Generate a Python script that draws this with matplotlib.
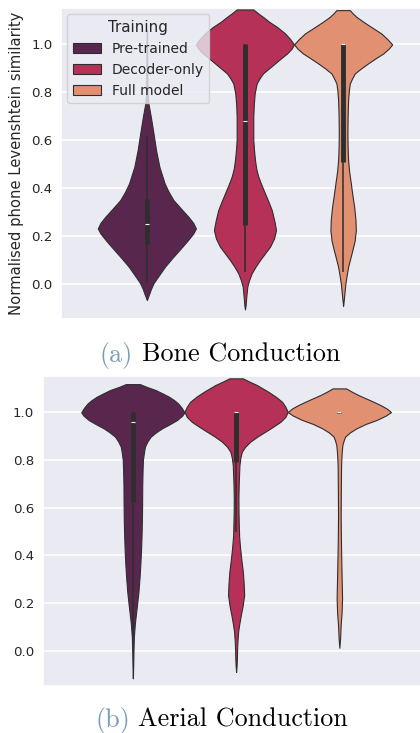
import matplotlib
matplotlib.use("Agg")
import matplotlib.pyplot as plt
from matplotlib.patches import Patch
import numpy as np
import seaborn as sns

# ---------------- data ----------------
labels = ["Pre-trained", "Decoder-only", "Full model"]
legend_title = "Training"
ylabel = "Normalised phone Levenshtein similarity"
yticks = [0.0, 0.2, 0.4, 0.6, 0.8, 1.0]
caption_tags = ["(a)", "(b)"]
caption_texts = ["Bone Conduction", "Aerial Conduction"]

# violin outlines: similarity value -> relative half-width (density)
bone_pre_y = [-0.067, -0.045, -0.02, 0.003, 0.035, 0.072, 0.105, 0.142, 0.18, 0.211, 0.232,
              0.255, 0.281, 0.315, 0.350, 0.385, 0.42, 0.489, 0.559, 0.629, 0.698, 0.755,
              0.80, 0.9, 1.06]
bone_pre_w = [0.0, 2.0, 4.2, 6.7, 12.0, 18.3, 25.0, 33.0, 41.0, 47.0, 49.7,
              47.0, 42.0, 34.5, 27.0, 22.0, 18.0, 12.7, 9.3, 6.7, 4.0, 1.5,
              0.6, 0.4, 0.3]

bone_dec_y = [-0.106, -0.09, -0.067, -0.04, -0.011, 0.015, 0.045, 0.072, 0.1, 0.128, 0.156,
              0.19, 0.225, 0.26, 0.309, 0.343, 0.378, 0.413, 0.448, 0.48, 0.517, 0.56, 0.60,
              0.698, 0.75, 0.796, 0.837, 0.858, 0.879, 0.90, 0.921, 0.942, 0.962, 0.982, 1.0,
              1.023, 1.046, 1.073, 1.095, 1.115, 1.13, 1.146]
bone_dec_w = [0.0, 0.6, 1.0, 1.6, 2.3, 4.0, 6.7, 10.5, 15.0, 20.0, 25.0,
              29.0, 31.0, 29.5, 26.7, 23.5, 20.0, 16.5, 13.3, 11.3, 10.0, 9.0, 8.3,
              8.3, 8.8, 9.7, 11.7, 14.5, 18.0, 24.0, 30.0, 36.0, 42.0, 46.5, 49.0,
              45.0, 40.0, 32.0, 24.0, 18.0, 13.0, 8.3]

bone_full_y = [-0.092, -0.06, -0.03, 0.003, 0.035, 0.072, 0.105, 0.142, 0.18, 0.225, 0.27,
               0.323, 0.37, 0.42, 0.47, 0.517, 0.57, 0.629, 0.70, 0.768, 0.81, 0.837, 0.858,
               0.879, 0.90, 0.921, 0.942, 0.962, 0.982, 1.0, 1.023, 1.046, 1.073, 1.095,
               1.115, 1.13, 1.143]
bone_full_w = [0.0, 0.8, 1.5, 2.3, 3.5, 5.0, 7.0, 9.3, 11.5, 12.7, 12.3,
               11.0, 9.3, 7.7, 6.0, 5.0, 4.5, 4.3, 4.5, 5.0, 5.8, 6.7, 9.0,
               11.7, 18.0, 25.0, 32.5, 40.0, 45.5, 49.0, 44.0, 38.0, 28.0, 20.0,
               13.3, 9.5, 6.7]

aer_pre_y = [-0.114, -0.05, 0.0, 0.06, 0.116, 0.16, 0.2, 0.25, 0.311, 0.36, 0.41, 0.48,
             0.548, 0.62, 0.687, 0.75, 0.80, 0.83, 0.855, 0.877, 0.897, 0.915, 0.932, 0.95,
             0.967, 0.985, 0.999, 1.018, 1.036, 1.05, 1.064, 1.078, 1.092, 1.105, 1.117]
aer_pre_w = [0.0, 0.4, 0.6, 1.0, 2.0, 3.2, 4.3, 5.6, 6.7, 7.4, 8.0, 8.6,
             9.0, 9.2, 9.3, 9.6, 10.0, 11.0, 12.0, 14.5, 17.7, 23.0, 29.0, 37.0,
             44.0, 49.0, 51.3, 48.5, 45.0, 41.0, 36.0, 29.5, 22.7, 14.0, 7.0]

aer_dec_y = [-0.087, -0.06, -0.03, 0.011, 0.045, 0.081, 0.115, 0.151, 0.19, 0.234, 0.28,
             0.332, 0.38, 0.43, 0.48, 0.527, 0.58, 0.639, 0.70, 0.778, 0.81, 0.834, 0.855,
             0.876, 0.897, 0.918, 0.938, 0.959, 0.98, 1.001, 1.022, 1.043, 1.064, 1.085,
             1.1, 1.113, 1.127, 1.141]
aer_dec_w = [0.0, 0.5, 0.8, 1.0, 1.4, 2.0, 3.2, 4.7, 6.5, 8.0, 7.6,
             6.7, 5.3, 4.0, 3.0, 2.7, 2.4, 2.3, 2.6, 3.3, 4.3, 5.7, 9.0,
             14.0, 21.0, 29.0, 36.5, 44.0, 49.0, 51.3, 49.0, 45.7, 39.5, 32.0,
             26.0, 20.7, 13.5, 6.7]

aer_full_y = [0.014, 0.05, 0.109, 0.16, 0.22, 0.28, 0.36, 0.45, 0.569, 0.68, 0.778, 0.83,
              0.862, 0.88, 0.897, 0.915, 0.932, 0.95, 0.967, 0.985, 1.0, 1.015, 1.029,
              1.043, 1.057, 1.071, 1.085, 1.099]
aer_full_w = [0.0, 0.7, 1.3, 2.2, 2.7, 2.4, 2.0, 1.6, 1.3, 1.5, 1.7, 2.3,
              3.0, 4.2, 5.7, 10.5, 17.0, 26.0, 37.0, 46.0, 51.3, 47.0, 41.0,
              34.0, 26.5, 19.0, 12.5, 6.7]

# inner box stats: [whisker low, q1, median, q3, whisker high]
bone_box = [[0.003, 0.166, 0.250, 0.355, 0.617],
            [0.051, 0.246, 0.681, 1.000, 1.000],
            [0.051, 0.510, 1.000, 1.000, 1.000]]
aer_box = [[0.060, 0.625, 0.959, 1.000, 1.000],
           [0.499, 0.792, 1.000, 1.000, 1.000],
           [0.995, 0.995, 1.000, 1.000, 1.000]]

# ---------------- style ----------------
sns.set_theme(style="darkgrid")
plt.rcParams["font.family"] = ["DejaVu Sans"]
pal = sns.color_palette("rocket", 3)
colors = [sns.desaturate(c, 0.75) for c in pal]
linecolor = "#2e2e2e"
violin_lw = 0.8

fig = plt.figure(figsize=(4.2, 7.33), dpi=100)
ax_top = fig.add_axes([0.1452, 0.5648, 0.8762, 0.4243])
ax_bot = fig.add_axes([0.1012, 0.0641, 0.9219, 0.4233])

dodge = 0.8 / 3
positions = [-dodge, 0.0, dodge]


def draw(ax, profiles, boxes):
    stats = []
    for (ys, ws), b in zip(profiles, boxes):
        stats.append(dict(coords=np.asarray(ys, float), vals=np.asarray(ws, float),
                          mean=b[2], median=b[2], min=min(ys), max=max(ys),
                          quantiles=np.array([])))
    parts = ax.violin(stats, positions=positions, widths=dodge,
                      showmeans=False, showextrema=False, showmedians=False)
    for body, c in zip(parts["bodies"], colors):
        body.set_facecolor(c)
        body.set_edgecolor(linecolor)
        body.set_alpha(1)
        body.set_linewidth(violin_lw)
        body.set_zorder(2)
    for p, b in zip(positions, boxes):
        ax.plot([p, p], [b[0], b[4]], color=linecolor, lw=1.1,
                solid_capstyle="butt", zorder=3)
        ax.plot([p, p], [b[1], b[3]], color=linecolor, lw=3.5,
                solid_capstyle="butt", zorder=4)
        ax.plot([p], [b[2]], marker="_", color="white", markersize=2.9,
                markeredgewidth=0.8, zorder=5)
    ax.set_xlim(-0.5, 0.5)
    ax.set_ylim(-0.146, 1.152)
    ax.set_xticks([])
    ax.set_yticks(yticks)
    ax.set_yticklabels([f"{t:.1f}" for t in yticks])
    ax.tick_params(axis="y", labelsize=9.6, pad=6, length=0, colors="#262626")
    ax.grid(True, axis="y", color="white", lw=1.1)
    ax.grid(False, axis="x")


draw(ax_top, [(bone_pre_y, bone_pre_w), (bone_dec_y, bone_dec_w), (bone_full_y, bone_full_w)], bone_box)
draw(ax_bot, [(aer_pre_y, aer_pre_w), (aer_dec_y, aer_dec_w), (aer_full_y, aer_full_w)], aer_box)

ax_top.set_ylabel(ylabel, fontsize=10.6, color="#262626", labelpad=5)

handles = [Patch(facecolor=c, edgecolor=linecolor, lw=violin_lw) for c in colors]
leg = ax_top.legend(handles, labels, title=legend_title, loc="upper left",
                    fontsize=10, title_fontsize=10.8, framealpha=0.8,
                    borderaxespad=0.45)
leg.set_zorder(10)

# captions
tag_color = "#7b9cb8"
cap_y = [(733 - 361.7) / 733, (733 - 726.8) / 733]
tag_x = [100 / 420, 95 / 420]
txt_x = [141.7 / 420, 138.3 / 420]
for i in range(2):
    fig.text(tag_x[i], cap_y[i], caption_tags[i], color=tag_color, family="cmr10",
             fontsize=18.8, va="baseline", ha="left")
    fig.text(txt_x[i], cap_y[i], caption_texts[i], color="black", family="cmr10",
             fontsize=18.8, va="baseline", ha="left")

fig.savefig("out.png", dpi=100)
